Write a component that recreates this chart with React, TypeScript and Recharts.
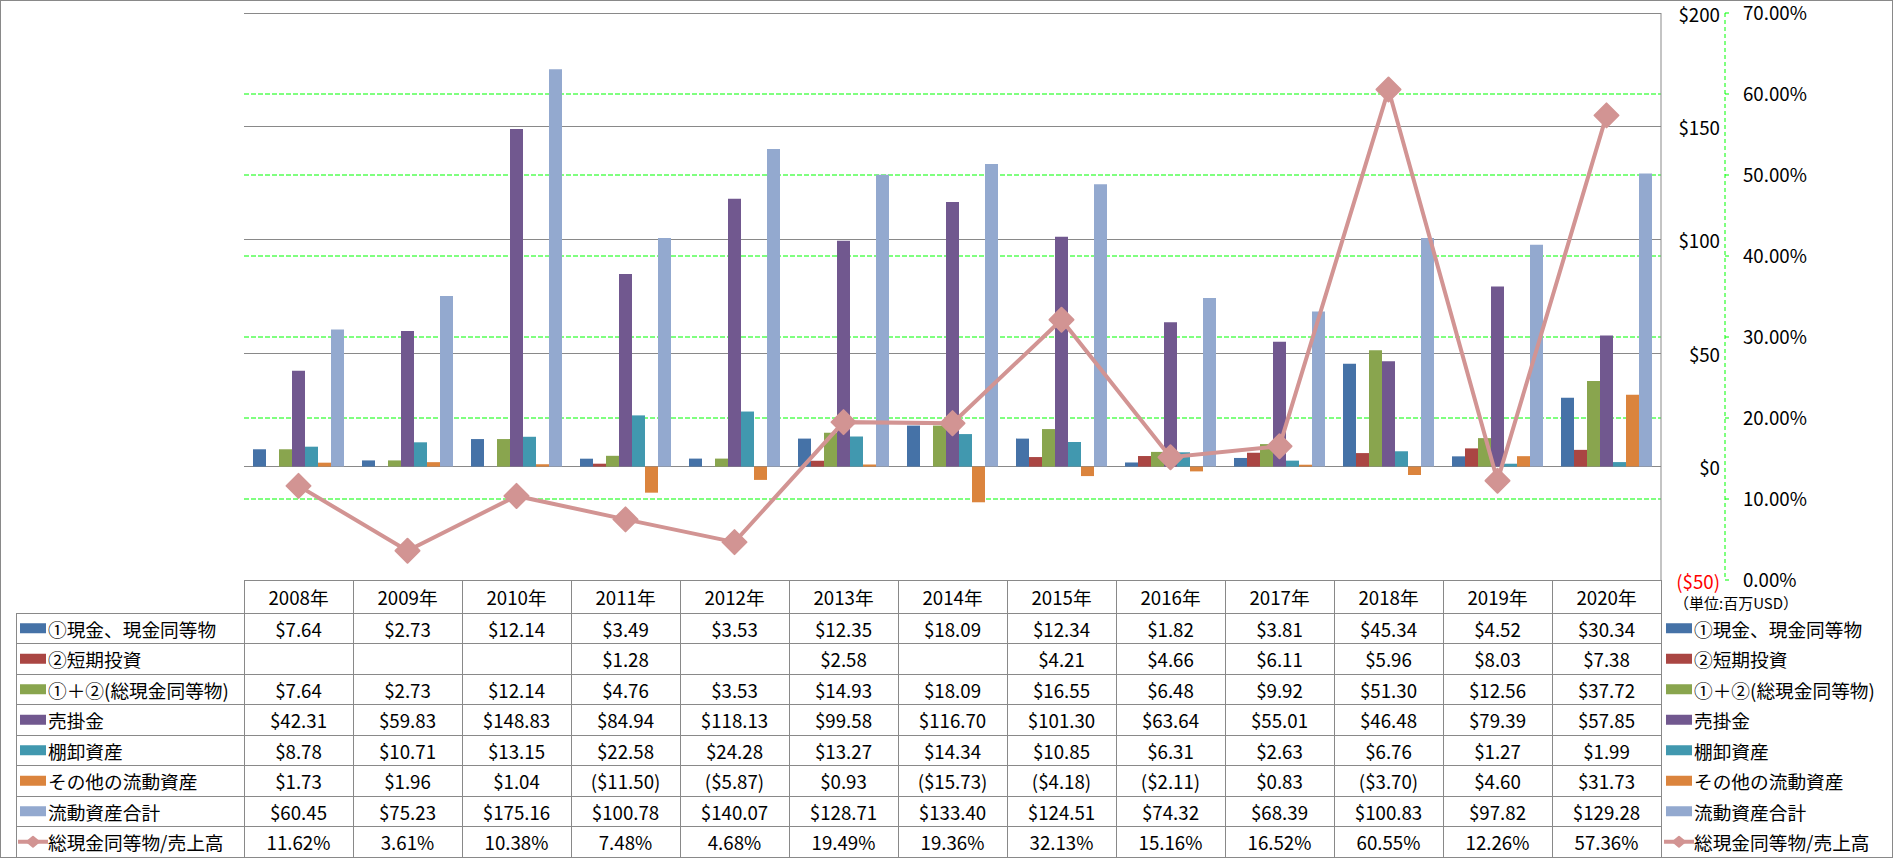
import { Bar, CartesianGrid, ComposedChart, Legend, Line, XAxis, YAxis } from "recharts";

const years = ["2008年", "2009年", "2010年", "2011年", "2012年", "2013年", "2014年", "2015年", "2016年", "2017年", "2018年", "2019年", "2020年"];
const cash = [7.64, 2.73, 12.14, 3.49, 3.53, 12.35, 18.09, 12.34, 1.82, 3.81, 45.34, 4.52, 30.34];
const shortTerm = [null, null, null, 1.28, null, 2.58, null, 4.21, 4.66, 6.11, 5.96, 8.03, 7.38];
const totalCash = [7.64, 2.73, 12.14, 4.76, 3.53, 14.93, 18.09, 16.55, 6.48, 9.92, 51.3, 12.56, 37.72];
const receivables = [42.31, 59.83, 148.83, 84.94, 118.13, 99.58, 116.7, 101.3, 63.64, 55.01, 46.48, 79.39, 57.85];
const inventory = [8.78, 10.71, 13.15, 22.58, 24.28, 13.27, 14.34, 10.85, 6.31, 2.63, 6.76, 1.27, 1.99];
const otherAssets = [1.73, 1.96, 1.04, -11.5, -5.87, 0.93, -15.73, -4.18, -2.11, 0.83, -3.7, 4.6, 31.73];
const currentAssets = [60.45, 75.23, 175.16, 100.78, 140.07, 128.71, 133.4, 124.51, 74.32, 68.39, 100.83, 97.82, 129.28];
const cashToSales = [11.62, 3.61, 10.38, 7.48, 4.68, 19.49, 19.36, 32.13, 15.16, 16.52, 60.55, 12.26, 57.36];

const usdTicks = [-50, 0, 50, 100, 150, 200];
const pctTicks = [0, 10, 20, 30, 40, 50, 60, 70];
const pctGridValues = [10, 20, 30, 40, 50, 60];

const FONT = "'Noto Sans CJK JP', sans-serif";
const FS = 18.7;
const GRID = "#898989";
const LIME = "#00FF00";
const HEADER_H = 33;
const ROW_H = 30.5;

const barSeries = [
  { key: "cash", name: "①現金、現金同等物", color: "#4572A7", values: cash },
  { key: "shortTerm", name: "②短期投資", color: "#AA4643", values: shortTerm },
  { key: "totalCash", name: "①＋②(総現金同等物)", color: "#89A54E", values: totalCash },
  { key: "receivables", name: "売掛金", color: "#71588F", values: receivables },
  { key: "inventory", name: "棚卸資産", color: "#4198AF", values: inventory },
  { key: "otherAssets", name: "その他の流動資産", color: "#DB843D", values: otherAssets },
  { key: "currentAssets", name: "流動資産合計", color: "#93A9CF", values: currentAssets },
];
const lineSeries = { key: "ratio", name: "総現金同等物/売上高", color: "#D29493", values: cashToSales };
const rowKeys = [...barSeries.map((s) => s.key), lineSeries.key];

const chartData = years.map((year, i) => {
  const row: Record<string, any> = { year };
  barSeries.forEach((s) => (row[s.key] = s.values[i]));
  row[lineSeries.key] = lineSeries.values[i];
  return row;
});

const money = (v: number | null) => {
  if (v == null) return "";
  return v < 0 ? `($${Math.abs(v).toFixed(2)})` : `$${v.toFixed(2)}`;
};
const pct = (v: number) => `${v.toFixed(2)}%`;

function Diamond({ cx, cy, rx, ry, color }: any) {
  return (
    <polygon
      points={`${cx},${cy - ry} ${cx + rx},${cy} ${cx},${cy + ry} ${cx - rx},${cy}`}
      fill={color}
      stroke={color}
      strokeLinejoin="round"
      strokeWidth={2}
    />
  );
}

function UsdTick({ x, y, payload }: any) {
  const v = payload.value;
  const label = v < 0 ? `($${Math.abs(v)})` : `$${v}`;
  return (
    <text x={x + 59} y={y} textAnchor="end" dominantBaseline="central" fontFamily={FONT} fontSize={FS} fill={v < 0 ? "#FF0000" : "#000"}>
      {label}
    </text>
  );
}

function TableColumn(props: any) {
  const { x, y, index, width, visibleTicksCount, payload } = props;
  const colW = width / visibleTicksCount;
  const left = x - colW / 2;
  const d = chartData[index];
  const bottom = y + HEADER_H + rowKeys.length * ROW_H;
  return (
    <g>
      <rect x={left} y={y} width={colW} height={bottom - y} fill="none" stroke={GRID} shapeRendering="crispEdges" />
      {rowKeys.map((k, r) => (
        <line key={k} x1={left} x2={left + colW} y1={y + HEADER_H + r * ROW_H} y2={y + HEADER_H + r * ROW_H} stroke={GRID} shapeRendering="crispEdges" />
      ))}
      <text x={x} y={y + HEADER_H / 2} textAnchor="middle" dominantBaseline="central" fontFamily={FONT} fontSize={FS} fill="#000">
        {payload.value}
      </text>
      {rowKeys.map((k, r) => (
        <text key={k} x={x} y={y + HEADER_H + r * ROW_H + ROW_H / 2} textAnchor="middle" dominantBaseline="central" fontFamily={FONT} fontSize={FS} fill="#000">
          {k === lineSeries.key ? pct(d[k]) : money(d[k])}
        </text>
      ))}
    </g>
  );
}

function LegendItem({ entry, x, cy }: any) {
  const isLine = entry.dataKey === lineSeries.key;
  return (
    <g>
      {isLine ? (
        <g>
          <line x1={x - 2} x2={x + 28} y1={cy} y2={cy} stroke={entry.color} strokeWidth={4} />
          <Diamond cx={x + 13} cy={cy} rx={6} ry={5} color={entry.color} />
        </g>
      ) : (
        <rect x={x} y={cy - 5} width={26} height={10} fill={entry.color} />
      )}
      <text x={x + 28} y={cy} dominantBaseline="central" fontFamily={FONT} fontSize={FS} fill="#000">
        {entry.value}
      </text>
    </g>
  );
}

function TableLegend({ payload }: any) {
  const entries = rowKeys.map((k) => (payload || []).find((p: any) => p.dataKey === k)).filter(Boolean);
  const top = 580 + HEADER_H;
  return (
    <svg width={1893} height={858} style={{ position: "absolute", left: 0, top: 0 }}>
      <line x1={16} x2={16} y1={top} y2={top + rowKeys.length * ROW_H} stroke={GRID} shapeRendering="crispEdges" />
      {rowKeys.map((k, r) => (
        <line key={k} x1={16} x2={244} y1={top + r * ROW_H} y2={top + r * ROW_H} stroke={GRID} shapeRendering="crispEdges" />
      ))}
      <line x1={16} x2={244} y1={top + rowKeys.length * ROW_H} y2={top + rowKeys.length * ROW_H} stroke={GRID} shapeRendering="crispEdges" />
      {entries.map((e: any, r: number) => (
        <LegendItem key={`l-${e.dataKey}`} entry={e} x={20} cy={top + r * ROW_H + ROW_H / 2} />
      ))}
      {entries.map((e: any, r: number) => (
        <LegendItem key={`r-${e.dataKey}`} entry={e} x={1666} cy={top + r * ROW_H + ROW_H / 2} />
      ))}
      <text x={1674} y={602} dominantBaseline="central" fontFamily={FONT} fontSize={15} fill="#000">
        （単位:百万USD）
      </text>
    </svg>
  );
}

export default function App() {
  return (
    <div style={{ position: "relative", width: 1893, height: 858, background: "#fff" }}>
      <style>{"body{margin:0}"}</style>
      <ComposedChart
        width={1893}
        height={858}
        data={chartData}
        margin={{ top: 13, right: 68, bottom: 0, left: 244 }}
        barCategoryGap={9}
        barGap={0}
      >
        <CartesianGrid yAxisId="a_usd" vertical={false} stroke={GRID} shapeRendering="crispEdges" />
        <CartesianGrid
          yAxisId="b_pct"
          vertical={false}
          horizontalValues={pctGridValues}
          stroke={LIME}
          strokeDasharray="5 2"
        />
        <XAxis
          dataKey="year"
          interval={0}
          height={278}
          axisLine={false}
          tickLine={false}
          tickSize={0}
          tickMargin={0}
          tick={<TableColumn />}
        />
        <YAxis
          yAxisId="a_usd"
          orientation="right"
          domain={[-50, 200]}
          ticks={usdTicks}
          width={64}
          axisLine={{ stroke: GRID }}
          tickLine={false}
          tickSize={0}
          tickMargin={0}
          tick={<UsdTick />}
        />
        <YAxis
          yAxisId="b_pct"
          orientation="right"
          domain={[0, 70]}
          ticks={pctTicks}
          width={100}
          axisLine={{ stroke: LIME, strokeDasharray: "4 3" }}
          tickLine={{ stroke: LIME }}
          tickSize={4}
          tickMargin={14}
          tickFormatter={pct}
          tick={{ fill: "#000", fontSize: FS, fontFamily: FONT }}
        />
        {barSeries.map((s) => (
          <Bar key={s.key} yAxisId="a_usd" dataKey={s.key} name={s.name} fill={s.color} isAnimationActive={false} />
        ))}
        <Line
          yAxisId="b_pct"
          dataKey={lineSeries.key}
          name={lineSeries.name}
          stroke={lineSeries.color}
          strokeWidth={4}
          isAnimationActive={false}
          dot={(p: any) => <Diamond key={`d-${p.index}`} cx={p.cx} cy={p.cy} rx={12} ry={12} color={lineSeries.color} />}
        />
        <Legend
          layout="horizontal"
          verticalAlign="middle"
          align="center"
          content={<TableLegend />}
          wrapperStyle={{ left: 0, top: 0, width: 1893, height: 858, pointerEvents: "none" }}
        />
      </ComposedChart>
      <div style={{ position: "absolute", left: 0, top: 0, width: 1893, height: 858, boxSizing: "border-box", border: `1px solid ${GRID}`, pointerEvents: "none" }} />
    </div>
  );
}
